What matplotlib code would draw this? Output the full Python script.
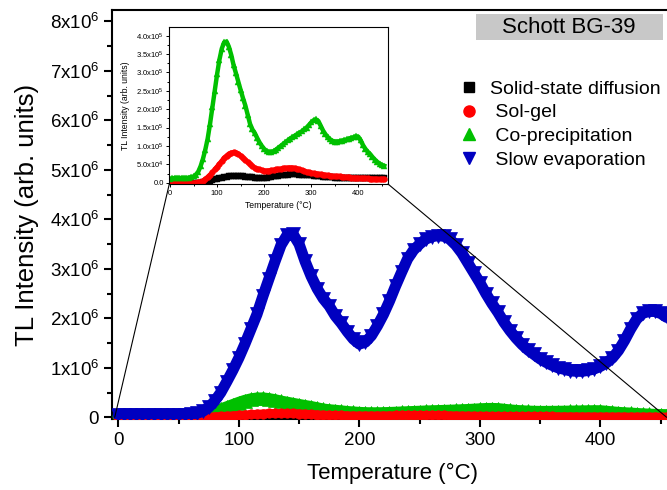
import numpy as np
import matplotlib
matplotlib.use("Agg")
import matplotlib.pyplot as plt
from matplotlib.patches import ConnectionPatch, Rectangle
from matplotlib.lines import Line2D
from matplotlib.ticker import MultipleLocator, FixedLocator

plt.rcParams['font.family'] = ['Liberation Sans', 'DejaVu Sans']
plt.rcParams['mathtext.fontset'] = 'custom'
plt.rcParams['mathtext.rm'] = 'Liberation Sans'
plt.rcParams['mathtext.it'] = 'Liberation Sans:italic'
plt.rcParams['mathtext.bf'] = 'Liberation Sans:bold'

# ---------------- data ----------------
temperature = list(range(0, 460, 5))  # measurement grid, degC

# Slow evaporation (x1e6)
slow_evaporation = [
    0.04, 0.04, 0.04, 0.04, 0.04, 0.04, 0.04, 0.04, 0.04, 0.04,
    0.045, 0.05, 0.06, 0.08, 0.12, 0.20, 0.33, 0.50, 0.72, 0.95,
    1.20, 1.48, 1.78, 2.08, 2.45, 2.80, 3.15, 3.48, 3.68, 3.70,
    3.50, 3.15, 2.85, 2.60, 2.40, 2.25, 2.05, 1.90, 1.73, 1.58,
    1.48, 1.52, 1.65, 1.85, 2.08, 2.35, 2.65, 2.93, 3.20, 3.38,
    3.50, 3.60, 3.65, 3.67, 3.66, 3.60, 3.48, 3.32, 3.12, 2.92,
    2.72, 2.50, 2.30, 2.12, 1.92, 1.75, 1.60, 1.47, 1.36, 1.27,
    1.18, 1.11, 1.05, 1.00, 0.97, 0.94, 0.93, 0.93, 0.95, 0.98,
    1.03, 1.10, 1.20, 1.35, 1.55, 1.78, 1.98, 2.10, 2.14, 2.14,
    2.10, 2.02]

# Co-precipitation (x1e5)
co_precipitation = [
    0.10, 0.12, 0.13, 0.13, 0.13, 0.13, 0.13, 0.13, 0.14, 0.15,
    0.17, 0.22, 0.30, 0.45, 0.65, 0.90, 1.20, 1.60, 2.05, 2.50,
    2.95, 3.35, 3.65, 3.82, 3.84, 3.70, 3.48, 3.20, 2.98, 2.75,
    2.52, 2.30, 2.10, 1.85, 1.60, 1.45, 1.35, 1.22, 1.10, 1.00,
    0.92, 0.86, 0.84, 0.84, 0.86, 0.90, 0.95, 1.00, 1.05, 1.10,
    1.15, 1.20, 1.24, 1.28, 1.32, 1.36, 1.40, 1.45, 1.50, 1.57,
    1.64, 1.70, 1.72, 1.68, 1.55, 1.42, 1.32, 1.24, 1.18, 1.14,
    1.12, 1.12, 1.13, 1.14, 1.16, 1.18, 1.20, 1.22, 1.24, 1.26,
    1.25, 1.15, 1.02, 0.92, 0.84, 0.78, 0.70, 0.63, 0.57, 0.52,
    0.48, 0.46]

# Sol-gel (x1e5)
sol_gel = [
    0.00, 0.00, 0.00, 0.00, 0.00, 0.00, 0.00, 0.00, 0.00, 0.00,
    0.00, 0.00, 0.01, 0.03, 0.06, 0.10, 0.16, 0.22, 0.28, 0.36,
    0.44, 0.52, 0.60, 0.68, 0.74, 0.79, 0.82, 0.83, 0.82, 0.79,
    0.74, 0.68, 0.62, 0.56, 0.50, 0.45, 0.41, 0.38, 0.36, 0.34,
    0.33, 0.33, 0.33, 0.34, 0.35, 0.36, 0.37, 0.38, 0.39, 0.40,
    0.41, 0.41, 0.41, 0.40, 0.38, 0.36, 0.34, 0.32, 0.30, 0.28,
    0.27, 0.26, 0.25, 0.24, 0.23, 0.22, 0.21, 0.20, 0.19, 0.18,
    0.18, 0.17, 0.17, 0.16, 0.16, 0.15, 0.15, 0.14, 0.14, 0.13,
    0.13, 0.13, 0.12, 0.12, 0.12, 0.11, 0.11, 0.11, 0.10, 0.10,
    0.10, 0.10]

# Solid-state diffusion (x1e5)
solid_state = [
    0.00, 0.00, 0.00, 0.00, 0.00, 0.00, 0.00, 0.00, 0.00, 0.00,
    0.00, 0.00, 0.00, 0.00, 0.01, 0.02, 0.03, 0.05, 0.07, 0.09,
    0.11, 0.13, 0.14, 0.15, 0.16, 0.17, 0.17, 0.17, 0.17, 0.17,
    0.17, 0.17, 0.16, 0.16, 0.15, 0.15, 0.14, 0.14, 0.14, 0.14,
    0.14, 0.14, 0.15, 0.16, 0.17, 0.18, 0.19, 0.20, 0.21, 0.22,
    0.22, 0.23, 0.23, 0.23, 0.23, 0.22, 0.22, 0.21, 0.21, 0.20,
    0.20, 0.19, 0.18, 0.17, 0.17, 0.16, 0.16, 0.15, 0.15, 0.15,
    0.14, 0.14, 0.14, 0.13, 0.13, 0.13, 0.13, 0.12, 0.12, 0.12,
    0.12, 0.12, 0.12, 0.12, 0.12, 0.12, 0.12, 0.12, 0.12, 0.12,
    0.12, 0.12]

series_names = ["Solid-state diffusion", " Sol-gel", " Co-precipitation", " Slow evaporation"]
series_colors = ["#000000", "#ff0000", "#00c000", "#0000c0"]
series_markers = ["s", "o", "^", "v"]
main_yticks = [0, 1, 2, 3, 4, 5, 6, 7, 8]          # x1e6
inset_yticks = [0, 0.5, 1.0, 1.5, 2.0, 2.5, 3.0, 3.5, 4.0]  # x1e5
xticks = [0, 100, 200, 300, 400]
title_box = "Schott BG-39"

T = np.array(temperature, dtype=float)
y_slow = np.array(slow_evaporation) * 1e6
y_cop = np.array(co_precipitation) * 1e5
y_sol = np.array(sol_gel) * 1e5
y_ssd = np.array(solid_state) * 1e5

# ---------------- figure ----------------
W, H = 667, 490
fig = plt.figure(figsize=(W / 100, H / 100), dpi=100)

def frac(x0, y0, x1, y1):
    return [x0 / W, 1 - y1 / H, (x1 - x0) / W, (y1 - y0) / H]

ax = fig.add_axes(frac(111.7, 10, 672.7, 419.3))
ax.set_xlim(-5.5, 460)
ax.set_ylim(-0.04e6, 8.23e6)

ys_main = [y_ssd, y_sol, y_cop, y_slow]
msz = [7.0, 6.8, 10.5, 10.0]
lws = [6.0, 6.0, 8.5, 8.0]
zords = [3, 3.4, 3.2, 3.6]   # sol-gel drawn above co-precipitation near the baseline
for y, c, m, s, lw, z in zip(ys_main, series_colors, series_markers, msz, lws, zords):
    ax.plot(T, y, color=c, lw=lw, marker=m, ms=s, mec=c, mew=0.5,
            solid_capstyle='round', solid_joinstyle='round', zorder=z)

ax.xaxis.set_major_locator(FixedLocator(xticks))
ax.xaxis.set_minor_locator(MultipleLocator(50))
ax.yaxis.set_major_locator(FixedLocator([v * 1e6 for v in main_yticks]))
ax.yaxis.set_minor_locator(MultipleLocator(0.5e6))
ax.set_xticklabels([str(v) for v in xticks])
ax.set_yticklabels(["0" if v == 0 else f"{v}x10$^{{6}}$" for v in main_yticks])
ax.tick_params(which='major', direction='out', length=6, width=1.5, labelsize=13.5, pad=3)
ax.tick_params(which='minor', direction='out', length=3.5, width=1.5)
for sp in ax.spines.values():
    sp.set_linewidth(1.5)
ax.set_xlabel("Temperature (\u00b0C)", fontsize=16, labelpad=10)
ax.set_ylabel("TL Intensity (arb. units)", fontsize=18.5, labelpad=8)

# title box
fig.patches.append(Rectangle((476 / W, 1 - 40 / H), (662.7 - 476) / W, 26 / H,
                             transform=fig.transFigure, facecolor="#c8c8c8",
                             edgecolor="none", zorder=5))
fig.text(569 / W, 1 - 27.5 / H, title_box, ha='center', va='center', fontsize=16, zorder=6)

# legend
handles = [Line2D([], [], color=c, marker=m, ls='none', ms=s)
           for c, m, s in zip(series_colors, series_markers, [7, 8, 9, 9])]
leg = ax.legend(handles, series_names, loc='upper left', frameon=False,
                bbox_to_anchor=(461 / W, 1 - 80 / H), bbox_transform=fig.transFigure,
                fontsize=14, handlelength=0.8, handletextpad=0.7,
                labelspacing=0.32, borderpad=0, borderaxespad=0)

# inset
axi = fig.add_axes(frac(169.3, 26.7, 388, 184))
axi.set_facecolor('white')
axi.set_xlim(-1.5, 463)
axi.set_ylim(-3.5e3, 4.245e5)
for y, c, m, lw in zip([y_ssd, y_sol, y_cop], series_colors[:3], series_markers[:3], [2.8, 3.2, 3.2]):
    axi.plot(T, y, color=c, lw=lw, marker=m, ms=4.2, mec=c, mew=0.3)
axi.xaxis.set_major_locator(FixedLocator(xticks))
axi.xaxis.set_minor_locator(MultipleLocator(50))
axi.yaxis.set_major_locator(FixedLocator([v * 1e5 for v in inset_yticks]))
axi.yaxis.set_minor_locator(MultipleLocator(0.25e5))
axi.set_xticklabels([str(v) for v in xticks])
def ilab(v):
    if v == 0:
        return "0.0"
    if v < 1:
        return f"{v * 10:.1f}x10$^{{4}}$"
    return f"{v:.1f}x10$^{{5}}$"
axi.set_yticklabels([ilab(v) for v in inset_yticks])
axi.tick_params(which='major', direction='out', length=2.5, width=0.7, labelsize=5.5, pad=1.5)
axi.tick_params(which='minor', direction='out', length=1.5, width=0.7)
for sp in axi.spines.values():
    sp.set_linewidth(0.8)
axi.set_xlabel("Temperature (\u00b0C)", fontsize=6.2, labelpad=3)
axi.set_ylabel("TL Intensity (arb. units)", fontsize=6.2, labelpad=4)

# zoom connector lines
for (xa, ya), (xb, yb) in [((0, 0), (-3, 0)), ((1, 0), (455, 0))]:
    con = ConnectionPatch(xyA=(xa, ya), coordsA=axi.transAxes,
                          xyB=(xb, yb), coordsB=ax.transData,
                          color='black', lw=0.8, zorder=10)
    fig.add_artist(con)

fig.savefig("out.png", dpi=100)
